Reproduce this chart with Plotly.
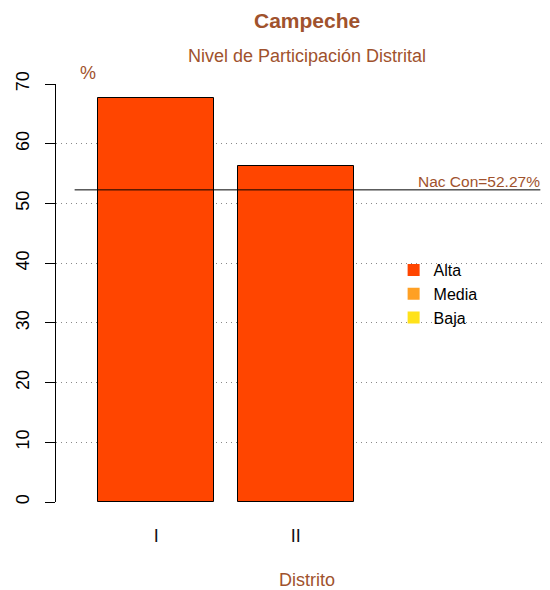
import plotly.graph_objects as go

# Data
districts = ["I", "II"]
participation = [67.7, 56.3]
nac_con = 52.27
legend_levels = ["Alta", "Media", "Baja"]
legend_colors = ["#FF4500", "#FFA024", "#FFE21A"]
bar_pos = [0.7, 1.9]
y_ticks = [0, 10, 20, 30, 40, 50, 60, 70]

BROWN = "#A0522D"
FONT = "Liberation Sans, Arial, sans-serif"

# page offset (browser body margin)
OFF = 8
# target plot area in window pixels
L, R, T, B = 54, 545, 84, 502
WIN_W, WIN_H = 550, 590
W, H = WIN_W - OFF, WIN_H - OFF

def px(x):
    return (x - L) / (R - L)

def py(y):
    return (B - y) / (B - T)

fig = go.Figure()
fig.add_trace(go.Bar(
    x=bar_pos, y=participation, width=1.0,
    marker=dict(color="#FF4500", line=dict(color="black", width=1)),
    showlegend=False, hoverinfo="skip",
))
fig.add_trace(go.Scatter(
    x=[0, 4], y=[nac_con, nac_con], mode="lines",
    line=dict(color="black", width=1), showlegend=False, hoverinfo="skip",
))
for lvl, col in zip(legend_levels, legend_colors):
    fig.add_trace(go.Scatter(
        x=[None], y=[None], mode="markers", name=lvl,
        marker=dict(symbol="square", size=9, color=col),
    ))

annotations = [
    dict(text="<b>Campeche</b>", x=px(306), y=py(20), font=dict(size=21, color=BROWN)),
    dict(text="Nivel de Participación Distrital", x=px(306), y=py(56), font=dict(size=18, color=BROWN)),
    dict(text="%", x=px(86), y=py(73), font=dict(size=18, color=BROWN)),
    dict(text="Distrito", x=px(306), y=py(580), font=dict(size=18, color=BROWN)),
    dict(text="Nac Con=" + f"{nac_con:.2f}%", x=px(542), y=py(181), xanchor="right",
         font=dict(size=15.5, color=BROWN)),
]
for a in annotations:
    a.setdefault("xanchor", "center")
    a.update(xref="paper", yref="paper", yanchor="middle", showarrow=False)
    a["font"]["family"] = FONT

fig.update_layout(
    width=W, height=H,
    margin=dict(l=L - OFF, r=WIN_W - R, t=T - OFF, b=WIN_H - B, pad=0),
    paper_bgcolor="white", plot_bgcolor="white",
    font=dict(family=FONT, size=18, color="black"),
    annotations=annotations,
    bargap=0,
    legend=dict(x=px(393), y=py(253), xanchor="left", yanchor="top",
                font=dict(size=16, color="black"), bgcolor="rgba(0,0,0,0)",
                tracegroupgap=0, itemsizing="constant"),
    xaxis=dict(range=[-0.16, 4.04], tickvals=bar_pos, ticktext=districts,
               showgrid=False, zeroline=False, showline=False,
               ticks="outside", ticklen=17, tickcolor="rgba(0,0,0,0)",
               tickfont=dict(size=18, color="#111111"), fixedrange=True),
    yaxis=dict(range=[0, 70], tickvals=y_ticks, showgrid=True,
               gridcolor="#888888", griddash="1px,4px", gridwidth=1,
               zeroline=False, showline=True, linecolor="black", linewidth=1,
               ticks="outside", ticklen=10, tickcolor="black",
               tickangle=-90, tickfont=dict(size=18, color="black"),
               ticklabelstandoff=9, fixedrange=True),
)

fig.write_html("out.html")
